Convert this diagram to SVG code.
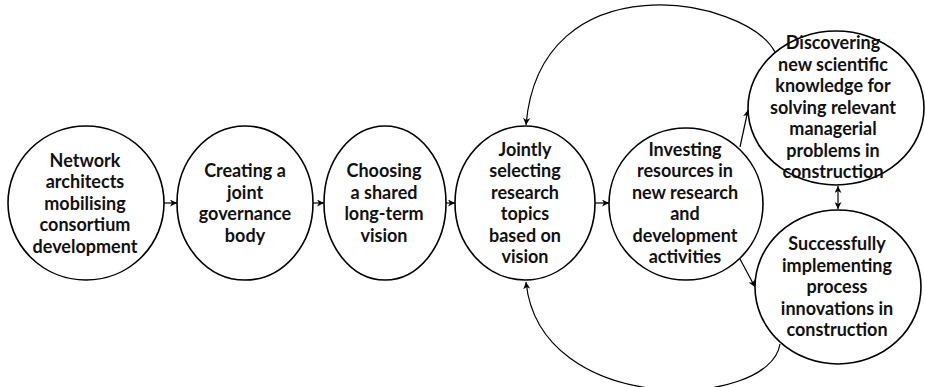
<svg xmlns="http://www.w3.org/2000/svg" width="925" height="387" viewBox="0 0 925 387">
<style>
.node ellipse{fill:#fff;stroke:#000;stroke-width:1.6}
.node text{font-family:Lato,"Liberation Sans",sans-serif;font-weight:bold;font-size:18px;fill:#111;text-anchor:middle}
.conn path,.conn line{fill:none;stroke:#000;stroke-width:1.2}
</style>
<defs>
<marker id="ah" markerUnits="userSpaceOnUse" markerWidth="8" markerHeight="7" refX="7" refY="3.5" orient="auto-start-reverse" viewBox="0 0 8 7">
<path d="M0,0 L7,3.5 L0,7 L2,3.5 z" fill="#000"/>
</marker>
</defs>
<rect width="925" height="387" fill="#fff"/>
<g id="connectors" class="conn">
<line x1="163" y1="203" x2="177" y2="203" marker-end="url(#ah)"/>
<line x1="312" y1="203" x2="324" y2="203" marker-end="url(#ah)"/>
<line x1="446" y1="203" x2="455" y2="203" marker-end="url(#ah)"/>
<line x1="595" y1="203" x2="609" y2="203" marker-end="url(#ah)"/>
<line x1="740" y1="147" x2="748" y2="110" marker-end="url(#ah)"/>
<line x1="740" y1="259" x2="755" y2="287" marker-end="url(#ah)"/>
<line x1="838" y1="186" x2="838" y2="209" marker-start="url(#ah)" marker-end="url(#ah)"/>
<path d="M775,52 C745,-4 540,-40 526,125" marker-end="url(#ah)"/>
<path d="M780,344 C770,410 540,418 526,282" marker-end="url(#ah)"/>
</g>
<g id="n1" class="node">
<ellipse cx="86" cy="203" rx="78" ry="77"/>
<text x="85" y="166.5">Network</text>
<text x="85" y="188">architects</text>
<text x="85" y="209.5">mobilising</text>
<text x="85" y="231">consortium</text>
<text x="85" y="252.5">development</text>
</g>
<g id="n2" class="node">
<ellipse cx="245" cy="203" rx="68" ry="77"/>
<text x="245" y="177">Creating a</text>
<text x="245" y="198.5">joint</text>
<text x="245" y="220">governance</text>
<text x="245" y="241.5">body</text>
</g>
<g id="n3" class="node">
<ellipse cx="385" cy="203" rx="61" ry="77"/>
<text x="384" y="177">Choosing</text>
<text x="384" y="198.5">a shared</text>
<text x="384" y="220">long-term</text>
<text x="384" y="241.5">vision</text>
</g>
<g id="n4" class="node">
<ellipse cx="525" cy="203" rx="70" ry="77"/>
<text x="525" y="155.5">Jointly</text>
<text x="525" y="177">selecting</text>
<text x="525" y="198.5">research</text>
<text x="525" y="220">topics</text>
<text x="525" y="241.5">based on</text>
<text x="525" y="263">vision</text>
</g>
<g id="n5" class="node">
<ellipse cx="686" cy="204" rx="77" ry="76"/>
<text x="685" y="155.5">Investing</text>
<text x="685" y="177">resources in</text>
<text x="685" y="198.5">new research</text>
<text x="685" y="220">and</text>
<text x="685" y="241.5">development</text>
<text x="685" y="263">activities</text>
</g>
<g id="n6" class="node">
<ellipse cx="836" cy="108" rx="88" ry="77"/>
<text x="833" y="49">Discovering</text>
<text x="833" y="70.5">new scientific</text>
<text x="833" y="92">knowledge for</text>
<text x="833" y="113.5">solving relevant</text>
<text x="833" y="135">managerial</text>
<text x="833" y="156.5">problems in</text>
<text x="833" y="178">construction</text>
</g>
<g id="n7" class="node">
<ellipse cx="838" cy="287" rx="83" ry="77"/>
<text x="837" y="250">Successfully</text>
<text x="837" y="271.5">implementing</text>
<text x="837" y="293">process</text>
<text x="837" y="314.5">innovations in</text>
<text x="837" y="336">construction</text>
</g>
</svg>
